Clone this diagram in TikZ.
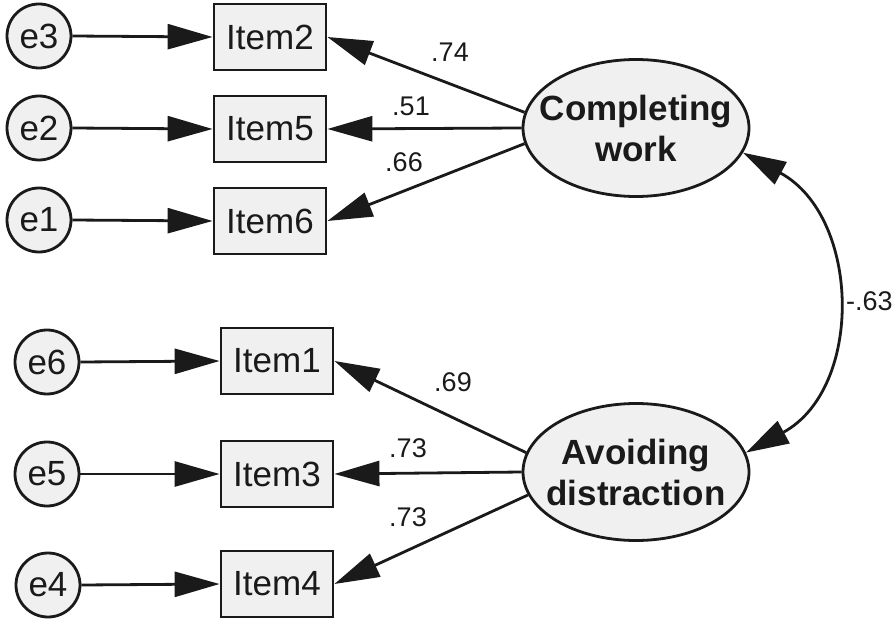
\documentclass[tikz,border=0pt]{standalone}
\usepackage{fontspec}
\setmainfont{Liberation Sans}
\usetikzlibrary{arrows.meta,shapes.geometric}
\definecolor{gr}{HTML}{F0F0F0}
\definecolor{ink}{HTML}{1A1A1A}
\begin{document}
\begin{tikzpicture}[x=1pt,y=-1pt,
  err/.style={circle,draw=ink,line width=2.8pt,fill=gr,minimum size=64pt,inner sep=0pt,text=ink,font=\fontsize{35}{40}\selectfont},
  obs/.style={rectangle,draw=ink,line width=2.8pt,fill=gr,minimum width=112pt,minimum height=66pt,inner sep=0pt,text=ink,font=\fontsize{35}{40}\selectfont},
  lat/.style={ellipse,draw=ink,line width=2.8pt,fill=gr,minimum width=226pt,minimum height=137pt,inner xsep=-30pt,inner ysep=0pt,align=center,text=ink,font=\bfseries\fontsize{35}{41}\selectfont},
  ld/.style={draw=ink,line width=2.8pt,-{Triangle[length=45pt,width=25pt]}},
  cov/.style={draw=ink,line width=2.8pt,{Triangle[length=43pt,width=25pt]}-{Triangle[length=43pt,width=25pt]}},
  lbl/.style={text=ink,font=\fontsize{27}{30}\selectfont,inner sep=0pt}
]
\useasboundingbox (0,0) rectangle (896,620);
\fill[white] (0,0) rectangle (896,620);

% error terms
\node[err] (e3) at (39,36) {e3};
\node[err] (e2) at (39,128) {e2};
\node[err] (e1) at (39,220) {e1};
\node[err] (e6) at (47,362) {e6};
\node[err] (e5) at (47,474) {e5};
\node[err] (e4) at (48,585) {e4};

% observed
\node[obs] (i2) at (270,37) {Item2};
\node[obs] (i5) at (270,129) {Item5};
\node[obs] (i6) at (270,221) {Item6};
\node[obs] (i1) at (277,361) {Item1};
\node[obs] (i3) at (277,474) {Item3};
\node[obs] (i4) at (277,584) {Item4};

% latent
\node[lat] (cw) at (636,128) {Completing\\work};
\node[lat] (ad) at (636,472) {Avoiding\\distraction};

% error paths
\draw[ld] (e3.east) -- (i2.west);
\draw[ld] (e2.east) -- (i5.west);
\draw[ld] (e1.east) -- (i6.west);
\draw[ld] (e6.east) -- (i1.west);
\draw[ld] (e5.east) -- (i3.west);
\draw[ld] (e4.east) -- (i4.west);

% loadings
\draw[ld] (cw.172) -- (i2.east);
\draw[ld] (cw.west) -- (i5.east);
\draw[ld] (cw.188) -- (i6.east);
\draw[ld] (ad.170) -- (i1.east);
\draw[ld] (ad.west) -- (i3.east);
\draw[ld] (ad.192) -- (i4.east);

% covariance
\draw[cov] (cw.-13) .. controls +(118,64) and +(118,-64) .. (ad.10);

% labels
\node[lbl] (l74) at (450,52) {.74};
\node[lbl] (l51) at (411,106) {.51};
\node[lbl] (l66) at (404,162) {.66};
\node[lbl] (l69) at (453,382) {.69};
\node[lbl] (l73a) at (408,448) {.73};
\node[lbl] (l73b) at (408,517) {.73};
\node[lbl,anchor=west] (l63) at (846,301) {-.63};
\end{tikzpicture}
\end{document}
